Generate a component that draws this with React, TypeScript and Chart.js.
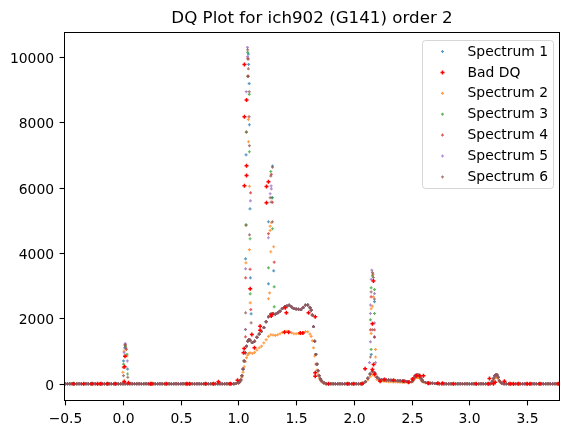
import React, { useEffect, useRef } from 'react';
import { Chart, registerables } from 'chart.js';

Chart.register(...registerables);

const titleText = 'DQ Plot for ich902 (G141) order 2';
const legendNames = ['Spectrum 1', 'Bad DQ', 'Spectrum 2', 'Spectrum 3', 'Spectrum 4', 'Spectrum 5', 'Spectrum 6'];
const legendColors = ['#1f77b4', '#ff0000', '#ff7f0e', '#2ca02c', '#d62728', '#9467bd', '#8c564b'];
const xTicks = [-0.5, 0.0, 0.5, 1.0, 1.5, 2.0, 2.5, 3.0, 3.5];
const yTicks = [0, 2000, 4000, 6000, 8000, 10000];
const xMin = -0.506;
const xMax = 3.78;
const yMin = -510;
const yMax = 10740;

// shared wavelength sampling of the continuum
const profileX = [
  -0.50, -0.48, -0.46, -0.44, -0.42, -0.40, -0.38, -0.36, -0.34, -0.32, -0.30, -0.28, -0.26, -0.24, -0.22, -0.20, -0.18, -0.16, -0.14, -0.12, -0.10, -0.08, -0.06, -0.04, -0.02,
  0.00, 0.02, 0.04, 0.06, 0.08, 0.10, 0.12, 0.14, 0.16, 0.18, 0.20, 0.22, 0.24, 0.26, 0.28, 0.30, 0.32, 0.34, 0.36, 0.38, 0.40, 0.42, 0.44, 0.46, 0.48,
  0.50, 0.52, 0.54, 0.56, 0.58, 0.60, 0.62, 0.64, 0.66, 0.68, 0.70, 0.72, 0.74, 0.76, 0.78, 0.80, 0.82, 0.84, 0.86, 0.88, 0.90, 0.92, 0.94, 0.96, 0.98,
  1.00, 1.01, 1.02, 1.03, 1.04, 1.05, 1.06, 1.07, 1.08, 1.09, 1.10, 1.12, 1.14, 1.16, 1.18, 1.20, 1.22, 1.24, 1.26, 1.28,
  1.30, 1.32, 1.34, 1.36, 1.38, 1.40, 1.42, 1.44, 1.46, 1.48, 1.50, 1.52, 1.54, 1.56, 1.58, 1.60, 1.62,
  1.63, 1.64, 1.65, 1.66, 1.67, 1.68, 1.69, 1.70, 1.71, 1.72, 1.74, 1.76, 1.78, 1.80,
  1.82, 1.84, 1.86, 1.88, 1.90, 1.92, 1.94, 1.96, 1.98, 2.00, 2.02, 2.04, 2.06, 2.08,
  2.10, 2.12, 2.14, 2.16, 2.18, 2.20, 2.22, 2.24, 2.26, 2.28, 2.30, 2.32, 2.34, 2.36, 2.38, 2.40, 2.42, 2.44, 2.46, 2.48,
  2.50, 2.51, 2.52, 2.53, 2.54, 2.55, 2.56, 2.57, 2.58, 2.59, 2.60, 2.62, 2.64, 2.66, 2.68, 2.70, 2.72, 2.74, 2.76, 2.78,
  2.80, 2.82, 2.84, 2.86, 2.88, 2.90, 2.92, 2.94, 2.96, 2.98, 3.00, 3.02, 3.04, 3.06, 3.08, 3.10, 3.12, 3.14, 3.16, 3.18,
  3.19, 3.20, 3.21, 3.22, 3.23, 3.24, 3.25, 3.26, 3.27, 3.28, 3.30,
  3.32, 3.34, 3.36, 3.38, 3.40, 3.42, 3.44, 3.46, 3.48, 3.50, 3.52, 3.54, 3.56, 3.58, 3.60, 3.62, 3.64, 3.66, 3.68, 3.70, 3.72, 3.74, 3.76, 3.78, 3.80,
];

// continuum flux of spectra 1, 3, 4, 5, 6
const profileMain = [
  0, 0, 0, 0, 0, 0, 0, 0, 0, 0, 0, 0, 0, 0, 0, 0, 0, 0, 0, 0, 0, 0, 0, 0, 0,
  0, 0, 0, 0, 0, 0, 0, 0, 0, 0, 0, 0, 0, 0, 0, 0, 0, 0, 0, 0, 0, 0, 0, 0, 0,
  0, 0, 0, 0, 0, 0, 0, 0, 0, 0, 0, 0, 0, 0, 0, 0, 0, 0, 0, 0, 0, 0, 0, 0, 10,
  30, 60, 120, 250, 450, 700, 950, 1150, 1300, 1350, 1330, 1260, 1300, 1420, 1520, 1600, 1720, 1900, 2050, 2130,
  2150, 2130, 2170, 2220, 2300, 2360, 2380, 2400, 2350, 2300, 2290, 2280, 2270, 2330, 2400, 2410, 2330,
  2250, 2100, 1750, 1300, 900, 600, 400, 250, 150, 90, 30, 5, 0, 0,
  0, 0, 0, 0, 0, 0, 0, 0, 0, 0, 0, 0, 0, 15,
  70, 170, 300, 380, 330, 200, 140, 130, 125, 120, 115, 110, 105, 100, 95, 90, 85, 80, 70, 60,
  70, 110, 180, 240, 265, 270, 265, 235, 170, 110, 70, 40, 25, 20, 15, 10, 8, 5, 5, 3,
  0, 0, 0, 0, 0, 0, 0, 0, 0, 0, 0, 0, 0, 0, 0, 0, 0, 0, 0, 0,
  30, 80, 170, 250, 280, 270, 200, 100, 40, 15, 0,
  0, 0, 0, 0, 0, 0, 0, 0, 0, 0, 0, 0, 0, 0, 0, 0, 0, 0, 0, 0, 0, 0, 0, 0, 0,
];

// continuum flux of spectrum 2
const profileS2 = [
  0, 0, 0, 0, 0, 0, 0, 0, 0, 0, 0, 0, 0, 0, 0, 0, 0, 0, 0, 0, 0, 0, 0, 0, 0,
  0, 0, 0, 0, 0, 0, 0, 0, 0, 0, 0, 0, 0, 0, 0, 0, 0, 0, 0, 0, 0, 0, 0, 0, 0,
  0, 0, 0, 0, 0, 0, 0, 0, 0, 0, 0, 0, 0, 0, 0, 0, 0, 0, 0, 0, 0, 0, 0, 0, 10,
  25, 50, 100, 200, 350, 520, 680, 800, 880, 930, 950, 930, 960, 1030, 1100, 1150, 1250, 1350, 1450, 1500,
  1490, 1480, 1500, 1530, 1570, 1600, 1610, 1590, 1560, 1530, 1530, 1540, 1530, 1560, 1600, 1590, 1520,
  1450, 1320, 1100, 850, 600, 420, 280, 170, 100, 60, 20, 3, 0, 0,
  0, 0, 0, 0, 0, 0, 0, 0, 0, 0, 0, 0, 0, 10,
  50, 120, 220, 280, 240, 130, 90, 80, 75, 70, 65, 60, 58, 55, 52, 50, 48, 45, 40, 38,
  50, 80, 130, 170, 190, 195, 190, 170, 120, 80, 50, 28, 18, 14, 10, 7, 5, 3, 3, 2,
  0, 0, 0, 0, 0, 0, 0, 0, 0, 0, 0, 0, 0, 0, 0, 0, 0, 0, 0, 0,
  20, 60, 120, 180, 200, 195, 140, 70, 30, 10, 0,
  0, 0, 0, 0, 0, 0, 0, 0, 0, 0, 0, 0, 0, 0, 0, 0, 0, 0, 0, 0, 0, 0, 0, 0, 0,
];

// emission-line samples of each spectrum [wavelength, flux]
const linesS1 = [
  [0.005, 700], [0.040, 450], [0.015, 1100],
  [1.086, 10080], [1.088, 9765], [1.093, 9180], [1.095, 7920], [1.066, 7000], [1.100, 5350], [1.062, 3820], [1.104, 3240], [1.110, 2140], [1.061, 1660],
  [1.295, 6655], [1.292, 5690], [1.260, 4955], [1.305, 3455], [1.260, 3058],
  [2.178, 2510], [2.178, 1430], [2.150, 900],
];
const linesS2 = [
  [0.000, 350], [0.035, 850], [0.010, 1000],
  [1.087, 8165], [1.086, 8080], [1.087, 7400], [1.096, 6040], [1.095, 4100], [1.065, 3700], [1.102, 2475], [1.061, 1660],
  [1.285, 4930], [1.275, 4820], [1.275, 4690], [1.305, 4190], [1.280, 4037], [1.270, 2780], [1.260, 2600],
  [2.169, 2660], [2.160, 2375], [2.149, 2295], [2.149, 1540], [2.187, 1050], [2.187, 820],
];
const linesS3 = [
  [0.035, 900], [0.040, 300], [0.005, 600], [0.022, 1150],
  [1.080, 10130], [1.082, 9400], [1.094, 8850], [1.070, 7695], [1.095, 7095], [1.066, 4870], [1.101, 4435], [1.102, 2750],
  [1.280, 6490], [1.292, 5690], [1.295, 4740], [1.260, 3547], [1.310, 2966], [1.310, 2355],
  [2.160, 3300], [2.149, 2935], [2.178, 2880], [2.178, 2150], [2.143, 1957], [2.149, 1050],
];
const linesS4 = [
  [0.003, 500], [0.030, 1050], [0.020, 1200],
  [1.082, 9950], [1.084, 9400], [1.105, 5840], [1.101, 3500], [1.062, 3240], [1.107, 2270], [1.061, 1437],
  [1.285, 6400], [1.295, 5550], [1.260, 4590], [1.310, 3720],
  [2.165, 3350], [2.149, 2660], [2.143, 1650], [2.178, 1650], [2.178, 1430],
];
const linesS5 = [
  [0.020, 1230], [0.010, 950], [0.038, 700],
  [1.078, 10285], [1.079, 10000], [1.068, 8930], [1.095, 8165], [1.104, 5595], [1.062, 3515], [1.061, 1660],
  [1.283, 6050], [1.285, 5960], [1.275, 5810], [1.260, 4465],
  [2.155, 3475], [2.150, 3190], [2.178, 2760], [2.143, 2410], [2.143, 2150], [2.178, 1860], [2.143, 1285], [2.187, 650], [2.135, 650],
];
const linesS6 = [
  [0.018, 1180], [0.025, 1100], [0.005, 250], [0.042, 200],
  [1.080, 10210], [1.084, 9920], [1.086, 9630], [1.082, 9400], [1.094, 8930], [1.068, 7695], [1.095, 7280], [1.066, 4840], [1.096, 4555], [1.062, 2170], [1.110, 1865],
  [1.295, 6620], [1.280, 6350], [1.275, 5690], [1.283, 5555], [1.295, 4955],
  [2.160, 3400], [2.169, 3250], [2.149, 2810], [2.178, 2590], [2.160, 1650], [2.143, 820],
];

// flagged (bad data quality) samples
const badDQ = [
  [-0.428, 0], [-0.341, 0], [-0.269, 0], [-0.220, 0], [-0.191, 0], [-0.134, 0], [-0.067, 0],
  [0.011, 70], [0.015, 520], [0.018, 845], [0.048, 30],
  [0.236, 0], [0.250, 0], [0.374, 0], [0.553, 0], [0.576, 0], [0.715, 0], [0.784, 0], [0.827, 60], [0.929, 0], [0.992, 110],
  [1.044, 950], [1.050, 1080], [1.052, 9765], [1.070, 8680], [1.052, 8165], [1.070, 6665], [1.070, 6370], [1.052, 6055],
  [1.102, 2905], [1.116, 1510], [1.139, 1100], [1.188, 1760], [1.188, 1640],
  [1.243, 6030], [1.260, 6180], [1.243, 5535], [1.284, 2070], [1.290, 2120],
  [1.399, 1580], [1.405, 2325], [1.415, 2170], [1.434, 1580], [1.535, 1550], [1.558, 1550], [1.607, 2170],
  [1.665, 2050], [1.665, 340], [1.665, 230], [1.780, 0],
  [1.947, 0], [1.996, 0], [2.070, 0], [2.097, 460], [2.160, 1835], [2.160, 437], [2.169, 3140], [2.170, 590], [2.180, 290],
  [2.227, 80], [2.265, 130], [2.343, 110], [2.430, 80], [2.472, 50], [2.507, 150], [2.540, 250], [2.570, 250], [2.602, 250],
  [2.645, 20], [2.727, 20], [2.767, 20], [2.862, 0],
  [3.058, 0], [3.165, 0], [3.174, 160], [3.208, 0], [3.223, 50], [3.303, 80], [3.353, 0], [3.382, 0], [3.425, 0],
  [3.500, 0], [3.525, 0], [3.610, 0], [3.770, 0],
];

const fromProfile = (ys: number[]) => profileX.map((x, i) => ({ x, y: ys[i] }));
const fromPairs = (arr: number[][]) => arr.map(([x, y]) => ({ x, y }));

const rgba = (hex: string, a: number) => {
  const n = parseInt(hex.slice(1), 16);
  return `rgba(${(n >> 16) & 255},${(n >> 8) & 255},${n & 255},${a})`;
};

const FONT = "'DejaVu Sans', 'Liberation Sans', sans-serif";
const TICK_LEN = 4.9;

const decorPlugin = {
  id: 'decor',
  afterDraw(chart: any) {
    const { ctx, chartArea: a } = chart;
    const xs = chart.scales.x;
    const ys = chart.scales.y;
    ctx.save();
    // axes frame
    ctx.strokeStyle = '#000';
    ctx.lineWidth = 1;
    ctx.strokeRect(a.left, a.top, a.right - a.left, a.bottom - a.top);
    // ticks and tick labels
    ctx.fillStyle = '#000';
    ctx.font = `13.9px ${FONT}`;
    ctx.lineWidth = 1.1;
    ctx.textAlign = 'center';
    ctx.textBaseline = 'alphabetic';
    xTicks.forEach((v) => {
      const px = Math.round(xs.getPixelForValue(v)) + 0.5;
      ctx.beginPath();
      ctx.moveTo(px, a.bottom);
      ctx.lineTo(px, a.bottom + TICK_LEN);
      ctx.stroke();
      ctx.fillText(v.toFixed(1).replace('-', '\u2212'), px, 423);
    });
    ctx.textAlign = 'right';
    yTicks.forEach((v) => {
      const py = Math.round(ys.getPixelForValue(v)) + 0.5;
      ctx.beginPath();
      ctx.moveTo(a.left, py);
      ctx.lineTo(a.left - TICK_LEN, py);
      ctx.stroke();
      ctx.fillText(String(v), a.left - TICK_LEN - 5.5, py + 5);
    });
    // title
    ctx.font = `16.7px ${FONT}`;
    ctx.textAlign = 'center';
    ctx.fillText(titleText, (a.left + a.right) / 2, 23);
    // legend
    const bx = 422.5, by = 40.5, bw = 131, bh = 148, r = 3;
    ctx.beginPath();
    ctx.moveTo(bx + r, by);
    ctx.lineTo(bx + bw - r, by);
    ctx.arcTo(bx + bw, by, bx + bw, by + r, r);
    ctx.lineTo(bx + bw, by + bh - r);
    ctx.arcTo(bx + bw, by + bh, bx + bw - r, by + bh, r);
    ctx.lineTo(bx + r, by + bh);
    ctx.arcTo(bx, by + bh, bx, by + bh - r, r);
    ctx.lineTo(bx, by + r);
    ctx.arcTo(bx, by, bx + r, by, r);
    ctx.closePath();
    ctx.fillStyle = 'rgba(255,255,255,0.8)';
    ctx.fill();
    ctx.lineWidth = 1;
    ctx.strokeStyle = 'rgba(204,204,204,0.8)';
    ctx.stroke();
    ctx.font = `13.9px ${FONT}`;
    ctx.textAlign = 'left';
    ctx.textBaseline = 'middle';
    legendNames.forEach((name, i) => {
      const cy = 51.5 + i * 20.9;
      const mx = 442.5;
      const isBad = i === 1;
      ctx.strokeStyle = isBad ? '#ff0000' : rgba(legendColors[i], 0.75);
      ctx.lineWidth = isBad ? 1.5 : 1.2;
      const rr = isBad ? 2 : 1.5;
      ctx.beginPath();
      ctx.moveTo(mx - rr, cy);
      ctx.lineTo(mx + rr, cy);
      ctx.moveTo(mx, cy - rr);
      ctx.lineTo(mx, cy + rr);
      ctx.stroke();
      ctx.fillStyle = '#000';
      ctx.fillText(name, 467.5, cy + 0.5);
    });
    ctx.restore();
  },
};

export default function App() {
  const ref = useRef<HTMLCanvasElement | null>(null);

  useEffect(() => {
    if (!ref.current) return;
    const spec = (label: string, color: string, data: any[], order: number) => ({
      label,
      data,
      order,
      showLine: false,
      pointStyle: 'cross',
      pointRadius: 1.5,
      pointBorderWidth: 1.2,
      pointBorderColor: rgba(color, 0.75),
      pointBackgroundColor: rgba(color, 0.75),
      pointHoverRadius: 1.5,
    });
    const datasets: any[] = [
      spec('Spectrum 1', '#1f77b4', [...fromProfile(profileMain), ...fromPairs(linesS1)], 7),
      {
        label: 'Bad DQ',
        data: fromPairs(badDQ),
        order: 0,
        showLine: false,
        pointStyle: 'cross',
        pointRadius: 2,
        pointBorderWidth: 1.5,
        pointBorderColor: '#ff0000',
        pointBackgroundColor: '#ff0000',
      },
      spec('Spectrum 2', '#ff7f0e', [...fromProfile(profileS2), ...fromPairs(linesS2)], 5),
      spec('Spectrum 3', '#2ca02c', [...fromProfile(profileMain), ...fromPairs(linesS3)], 4),
      spec('Spectrum 4', '#d62728', [...fromProfile(profileMain), ...fromPairs(linesS4)], 3),
      spec('Spectrum 5', '#9467bd', [...fromProfile(profileMain), ...fromPairs(linesS5)], 2),
      spec('Spectrum 6', '#8c564b', [...fromProfile(profileMain), ...fromPairs(linesS6)], 1),
    ];

    const chart = new Chart(ref.current, {
      type: 'scatter',
      data: { datasets },
      options: {
        responsive: false,
        animation: false,
        events: [],
        layout: { padding: { top: 32.5, right: 9.5, left: 0, bottom: 0 } },
        plugins: {
          legend: { display: false },
          tooltip: { enabled: false },
          title: { display: false },
        },
        scales: {
          x: {
            type: 'linear',
            min: xMin,
            max: xMax,
            afterFit(s: any) { s.height = 34.5; },
            afterBuildTicks(s: any) { s.ticks = xTicks.map((v) => ({ value: v })); },
            grid: { display: false },
            border: { display: false },
            ticks: { display: false },
          },
          y: {
            type: 'linear',
            min: yMin,
            max: yMax,
            afterFit(s: any) { s.width = 64.5; },
            afterBuildTicks(s: any) { s.ticks = yTicks.map((v) => ({ value: v })); },
            grid: { display: false },
            border: { display: false },
            ticks: { display: false },
          },
        },
      },
      plugins: [decorPlugin],
    } as any);
    return () => chart.destroy();
  }, []);

  return (
    <div style={{ position: 'absolute', left: 0, top: 0, width: 569, height: 435, background: '#fff' }}>
      <canvas ref={ref} width={569} height={435} style={{ display: 'block' }} />
    </div>
  );
}
